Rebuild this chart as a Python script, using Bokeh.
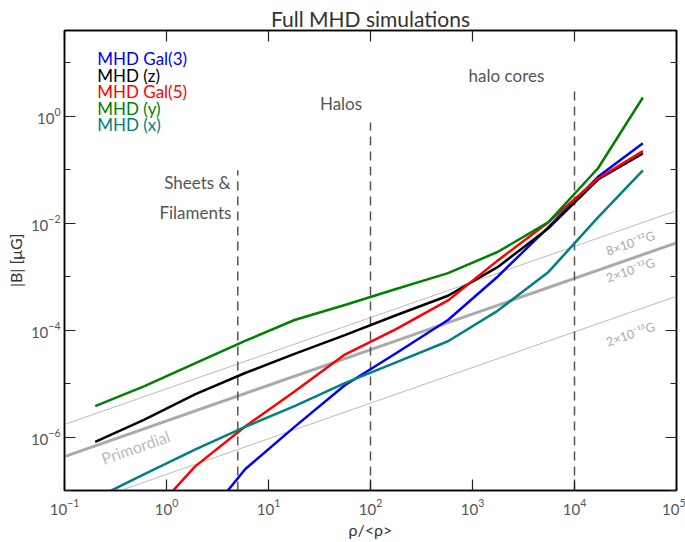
from bokeh.plotting import figure
from bokeh.models import Range1d, FixedTicker, LogAxis, Label
from bokeh.embed import file_html
from bokeh.resources import INLINE

# ---- data ----
rho = [0.2, 0.6, 1.9, 5.9, 18, 56, 178, 575, 1760, 5560, 17000, 46800]
b_y = [3.8e-6, 8.9e-6, 2.4e-5, 6.3e-5, 1.55e-4, 2.95e-4, 5.9e-4, 1.17e-3, 2.9e-3, 1.05e-2, 0.107, 2.26]
b_z = [8.1e-7, 2.1e-6, 6.3e-6, 1.58e-5, 3.6e-5, 8.1e-5, 1.9e-4, 4.4e-4, 1.51e-3, 8.1e-3, 6.6e-2, 0.204]
rho_gal5 = [0.6, 1.9, 5.9, 18, 56, 178, 575, 1760, 5560, 17000, 46800]
b_gal5 = [2.5e-8, 2.8e-7, 1.58e-6, 7.1e-6, 3.5e-5, 1.05e-4, 3.6e-4, 2.0e-3, 1.05e-2, 6.9e-2, 0.224]
rho_gal3 = [1.9, 5.9, 18, 56, 178, 575, 1760, 5560, 17000, 46800]
b_gal3 = [1.74e-8, 2.5e-7, 1.55e-6, 9.3e-6, 3.7e-5, 1.55e-4, 1.0e-3, 8.5e-3, 7.4e-2, 0.316]
b_x = [7.1e-8, 2.0e-7, 5.8e-7, 1.55e-6, 3.8e-6, 1.02e-5, 2.5e-5, 6.2e-5, 2.3e-4, 1.23e-3, 1.29e-2, 9.8e-2]

prim_x = [0.1, 1e5]
prim_2e12 = [4.31e-7, 4.31e-3]
prim_8e12 = [1.72e-6, 1.72e-2]
prim_2e13 = [4.31e-8, 4.31e-4]

regions_x = [5, 100, 1e4]
regions_top = [0.098, 0.77, 3.06]
y_bottom = 1e-7

x_ticks = [0.1, 1, 10, 100, 1e3, 1e4, 1e5]
y_major = [1e-6, 1e-4, 1e-2, 1]
y_minor = [1e-7, 1e-5, 1e-3, 1e-1, 10]

series = [
    ("MHD Gal(3)", rho_gal3, b_gal3, "#0000ff"),
    ("MHD (z)", rho, b_z, "#000000"),
    ("MHD Gal(5)", rho_gal5, b_gal5, "#ff0000"),
    ("MHD (y)", rho, b_y, "#008000"),
    ("MHD (x)", rho, b_x, "#008080"),
]

FONT = "Lato"
GRAY = "#555555"

p = figure(width=685, height=542, x_axis_type="log", y_axis_type="log",
           x_range=Range1d(0.1, 1e5), y_range=Range1d(1e-7, 40.5),
           output_backend="svg", toolbar_location=None,
           min_border_left=64, min_border_right=9, min_border_top=30, min_border_bottom=52)
p.grid.visible = False
p.outline_line_color = "black"
p.outline_line_width = 1.5
p.background_fill_color = "white"
p.border_fill_color = "white"

p.title.text = "Full MHD simulations"
p.title.align = "center"
p.title.text_font = FONT
p.title.text_font_size = "21px"
p.title.text_font_style = "normal"
p.title.text_color = "#333333"
p.title.offset = 0
p.title.standoff = 0

def style_axis(ax, ticker, show_labels):
    ax.ticker = ticker
    ax.major_tick_in = 11
    ax.major_tick_out = 0
    ax.minor_tick_in = 6
    ax.minor_tick_out = 0
    ax.axis_line_color = "black"
    ax.axis_line_width = 1.5
    ax.major_tick_line_width = 1.2
    ax.minor_tick_line_width = 1.2
    ax.major_tick_line_color = "#222222"
    ax.minor_tick_line_color = "#222222"
    ax.major_label_text_font = FONT
    ax.major_label_text_color = GRAY
    ax.major_label_text_font_size = "15px"
    if not show_labels:
        ax.major_label_text_alpha = 0.0
        ax.major_label_text_font_size = "1px"
        ax.major_label_standoff = 0

xt = FixedTicker(ticks=x_ticks, minor_ticks=[])
yt = FixedTicker(ticks=y_major, minor_ticks=y_minor)

style_axis(p.xaxis[0], xt, True)
style_axis(p.yaxis[0], yt, True)
p.xaxis[0].major_label_standoff = 8
p.yaxis[0].major_label_standoff = 4
p.xaxis[0].axis_label = "ρ/<ρ>"
p.yaxis[0].axis_label = "|B| [μG]"
for ax in (p.xaxis[0], p.yaxis[0]):
    ax.axis_label_text_font = FONT
    ax.axis_label_text_font_style = "normal"
    ax.axis_label_text_color = "#333333"
    ax.axis_label_text_font_size = "16px"
p.xaxis[0].axis_label_standoff = 2
p.yaxis[0].axis_label_standoff = 3

top_ax = LogAxis()
style_axis(top_ax, FixedTicker(ticks=x_ticks, minor_ticks=[]), False)
p.add_layout(top_ax, "above")
right_ax = LogAxis()
style_axis(right_ax, FixedTicker(ticks=y_major, minor_ticks=y_minor), False)
p.add_layout(right_ax, "right")

p.line(prim_x, prim_8e12, line_color="#bbbbbb", line_width=1)
p.line(prim_x, prim_2e13, line_color="#bbbbbb", line_width=1)
p.line(prim_x, prim_2e12, line_color="#aaaaaa", line_width=3)

for xv, yt_ in zip(regions_x, regions_top):
    p.line([xv, xv], [y_bottom, yt_], line_color=GRAY, line_width=1.5, line_dash="9 6")

for name, xs, ys, col in series:
    p.line(xs, ys, line_color=col, line_width=2.5)

legend_y = [11.9, 5.84, 2.87, 1.41, 0.694]
for (name, xs, ys, col), ly in zip(series, legend_y):
    p.add_layout(Label(x=0.2094, y=ly, text=name, text_color=col, text_font=FONT,
                       text_font_size="17px", text_baseline="middle", text_align="left"))

def lab(x, y, t, size="17px", color=GRAY, angle=0.0, align="center"):
    p.add_layout(Label(x=x, y=y, text=t, text_color=color, text_font=FONT,
                       text_font_size=size, text_baseline="middle", text_align=align,
                       angle=angle))

lab(2.01, 0.0591, "Sheets &")
lab(1.92, 0.01626, "Filaments")
lab(51.4, 1.75, "Halos")
lab(2153, 5.84, "halo cores")
ang = 0.335
lab(0.497, 6.5e-7, "Primordial", size="16px", color="#bbbbbb", angle=ang)
lab(35400, 4.23e-3, "8×10⁻¹²G", size="12.5px", color="#aaaaaa", angle=ang)
lab(35400, 1.32e-3, "2×10⁻¹²G", size="12.5px", color="#aaaaaa", angle=ang)
lab(35400, 8.4e-5, "2×10⁻¹³G", size="12.5px", color="#aaaaaa", angle=ang)

open("out.html", "w").write(file_html(p, INLINE))
